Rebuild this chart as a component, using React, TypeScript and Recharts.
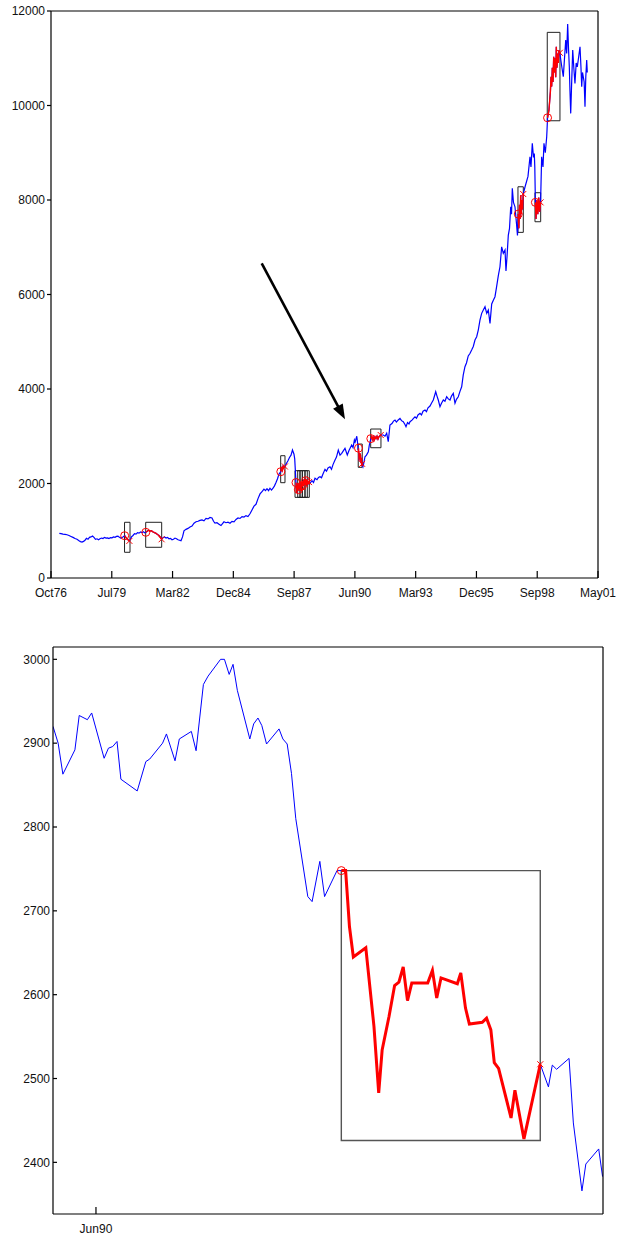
import React from "react";
import {
  LineChart,
  Line,
  XAxis,
  YAxis,
  ReferenceArea,
  ReferenceDot,
  ReferenceLine,
} from "recharts";

const FONT = '"Liberation Sans", Arial, Helvetica, sans-serif';

// ---- overview panel: index level, x = days since the Oct76 tick ----
const overviewSeries: [number, number][] = [
  [137, 946], [165, 940], [197, 930], [230, 925], [263, 915], [296, 900], [329, 880],
  [362, 860], [395, 835], [428, 820], [461, 790], [485, 770], [510, 760], [535, 775],
  [559, 800], [584, 840], [609, 820], [633, 860], [658, 870], [683, 890], [707, 860],
  [732, 820], [757, 830], [782, 810], [806, 830], [831, 845], [856, 835], [880, 860],
  [905, 845], [930, 850], [954, 835], [979, 855], [1004, 850], [1028, 870], [1053, 860],
  [1078, 880], [1102, 885], [1127, 860], [1152, 840], [1176, 860],
  [1212, 895], [1226, 870], [1242, 840], [1259, 820], [1275, 800], [1290, 785],
  [1310, 830], [1324, 870], [1349, 900], [1374, 940], [1399, 930], [1423, 960],
  [1448, 950], [1473, 975], [1497, 960], [1522, 980], [1540, 955],
  [1560, 967], [1579, 985], [1604, 1010], [1629, 995], [1654, 1000], [1678, 975],
  [1703, 960], [1728, 945], [1752, 920], [1777, 900], [1802, 860], [1820, 820],
  [1843, 850], [1867, 870], [1892, 845], [1917, 860], [1941, 830], [1966, 840],
  [1991, 810], [2015, 820], [2040, 845], [2065, 830], [2090, 810], [2114, 800],
  [2139, 790], [2164, 870], [2188, 1000], [2221, 1030], [2254, 1050], [2287, 1080],
  [2320, 1100], [2353, 1160], [2386, 1190], [2419, 1200], [2451, 1220], [2484, 1230],
  [2517, 1210], [2550, 1260], [2583, 1250], [2616, 1280], [2649, 1270], [2674, 1200],
  [2698, 1160], [2731, 1170], [2764, 1140], [2797, 1110], [2822, 1150], [2846, 1190],
  [2879, 1170], [2912, 1180], [2945, 1160], [2978, 1200], [3011, 1190], [3044, 1240],
  [3077, 1270], [3110, 1260], [3143, 1300], [3175, 1290], [3208, 1320], [3241, 1300],
  [3274, 1360], [3307, 1440], [3340, 1520], [3373, 1560], [3406, 1680], [3439, 1780],
  [3472, 1830], [3504, 1880], [3529, 1850], [3554, 1890], [3579, 1850], [3603, 1900],
  [3628, 1860], [3653, 1900], [3677, 1950], [3702, 2020], [3727, 2100], [3751, 2200],
  [3781, 2250], [3793, 2320], [3806, 2280], [3817, 2380], [3830, 2330], [3848, 2360],
  [3875, 2430], [3899, 2480], [3924, 2550], [3949, 2600], [3973, 2710], [3998, 2620],
  [4010, 2520],
  [4031, 2020], [4044, 1800], [4057, 1950], [4070, 1870], [4084, 2000], [4097, 1930],
  [4110, 1850], [4123, 2010], [4136, 1950], [4149, 2040], [4163, 2070], [4176, 1990],
  [4189, 2060], [4202, 2000], [4215, 2050], [4228, 1990], [4245, 2030],
  [4261, 2004], [4294, 2060], [4319, 2020], [4344, 2110], [4376, 2080], [4401, 2130],
  [4426, 2144], [4451, 2120], [4475, 2200], [4508, 2300], [4533, 2260], [4558, 2330],
  [4590, 2355], [4615, 2300], [4640, 2400], [4673, 2497], [4697, 2560], [4727, 2708],
  [4755, 2600], [4783, 2639], [4804, 2680], [4837, 2744], [4875, 2603], [4903, 2700],
  [4947, 2814], [4969, 2760], [4992, 2920], [5004, 2880], [5012, 2910], [5031, 3000],
  [5040, 2910], [5048, 2810], [5052, 2711],
  [5059, 2748], [5062, 2645], [5065, 2656], [5068, 2483], [5073, 2633], [5080, 2629],
  [5087, 2626], [5090, 2565], [5094, 2572], [5099, 2453], [5100, 2486], [5102, 2428],
  [5105, 2517],
  [5112, 2524], [5115, 2366], [5119, 2416], [5133, 2355], [5150, 2450], [5166, 2567],
  [5191, 2600], [5221, 2673], [5236, 2800],
  [5262, 2950], [5275, 2990], [5288, 2930], [5300, 2980], [5314, 2920], [5331, 2990],
  [5347, 2950], [5364, 3000], [5380, 2940], [5396, 2990], [5413, 3010], [5425, 3026],
  [5467, 3026], [5495, 3000], [5523, 3062], [5549, 2884], [5577, 3237], [5610, 3270],
  [5635, 3320], [5660, 3343], [5684, 3300], [5709, 3340], [5742, 3379], [5767, 3330],
  [5796, 3308], [5824, 3250], [5841, 3202], [5866, 3290], [5890, 3260], [5907, 3308],
  [5940, 3340], [5964, 3380], [5989, 3413], [6014, 3380], [6038, 3450], [6071, 3485],
  [6096, 3450], [6121, 3530], [6154, 3555], [6178, 3520], [6203, 3600], [6236, 3640],
  [6260, 3700], [6290, 3767], [6330, 3942], [6351, 3850], [6372, 3767], [6400, 3625],
  [6425, 3700], [6455, 3767], [6482, 3740], [6510, 3836], [6537, 3790], [6565, 3767],
  [6589, 3850], [6619, 3908], [6647, 3697], [6671, 3780], [6701, 3836], [6729, 3950],
  [6757, 4048], [6783, 4300], [6811, 4471], [6836, 4550], [6865, 4700], [6893, 4750],
  [6921, 4824], [6948, 4900], [6976, 5036], [7004, 5106], [7030, 5248], [7058, 5459],
  [7086, 5601], [7113, 5671], [7141, 5741], [7169, 5601], [7195, 5671], [7223, 5389],
  [7251, 5800], [7278, 5880], [7305, 5953], [7330, 6150], [7360, 6400], [7387, 6587],
  [7415, 7010], [7442, 6870], [7470, 6940], [7486, 6500], [7503, 6800], [7524, 7250],
  [7544, 7400], [7564, 7857], [7577, 7700], [7590, 8246], [7609, 7950], [7634, 7857],
  [7659, 7500], [7675, 7250],
  [7688, 7702], [7698, 7400], [7708, 7900], [7718, 7600], [7728, 8100], [7738, 7700],
  [7748, 8000], [7758, 7800], [7770, 8126],
  [7800, 8280], [7848, 8500], [7881, 8915], [7897, 8700], [7919, 9198], [7939, 8900],
  [7952, 8986], [7960, 8703],
  [7970, 7950], [7980, 7600], [7995, 8000], [8010, 7700], [8025, 8050], [8040, 7750],
  [8055, 7950],
  [8073, 8915], [8095, 8700], [8111, 9198], [8133, 9000], [8156, 9339], [8162, 9500],
  [8170, 9740], [8193, 9900], [8205, 10100], [8217, 10300], [8227, 10608], [8238, 10400],
  [8248, 10800], [8260, 10500], [8271, 11031], [8281, 10700], [8292, 11000], [8304, 10600],
  [8314, 11243], [8325, 10800], [8337, 11100], [8347, 10900], [8358, 11172], [8372, 11116],
  [8395, 10900], [8429, 10608], [8449, 11000], [8469, 11384], [8485, 11100], [8501, 11723],
  [8515, 11200], [8528, 10819], [8539, 10300], [8551, 9833], [8567, 10500], [8584, 11172],
  [8602, 10800], [8621, 10468], [8641, 10900], [8659, 10819], [8679, 11000], [8704, 11243],
  [8720, 10800], [8732, 10396], [8745, 10700], [8758, 10608], [8772, 10500], [8786, 9973],
  [8799, 10600], [8814, 10961], [8824, 10700],
];

const overviewXTicks = [0, 1000, 2000, 3000, 4000, 5000, 6000, 7000, 8000, 9000];
const overviewXLabels = ["Oct76", "Jul79", "Mar82", "Dec84", "Sep87", "Jun90", "Mar93", "Dec95", "Sep98", "May01"];
const overviewYTicks = [0, 2000, 4000, 6000, 8000, 10000, 12000];
const overviewXDomain: [number, number] = [0, 9000];
const overviewYDomain: [number, number] = [0, 12000];

// [from day, to day, box low, box high]
const overviewEpisodes: [number, number, number, number][] = [
  [1210, 1300, 544, 1179],
  [1558, 1821, 650, 1179],
  [3779, 3850, 2017, 2588],
  [4015, 4097, 1707, 2271],
  [4059, 4135, 1707, 2271],
  [4097, 4179, 1707, 2271],
  [4135, 4217, 1707, 2271],
  [4179, 4250, 1707, 2271],
  [5055, 5121, 2342, 2835],
  [5260, 5429, 2757, 3153],
  [7683, 7771, 7315, 8280],
  [7963, 8057, 7540, 8154],
  [8165, 8374, 9677, 11548],
];

const arrowStart: [number, number] = [3467, 6659];
const arrowEnd: [number, number] = [4837, 3358];

// ---- detail panel around Jun90, x = calendar days ----
const detailSeries: [number, number][] = [
  [0, 2920], [1.2, 2900], [2.3, 2863], [5.1, 2892], [6.1, 2933], [8, 2928], [9, 2936],
  [11.9, 2882], [12.9, 2894], [13.9, 2896], [14.9, 2902], [15.8, 2857], [19.6, 2843],
  [21.6, 2878], [22.5, 2881], [25.5, 2900], [26.4, 2911], [28.4, 2879], [29.4, 2905],
  [32.2, 2914], [33.3, 2891], [35, 2970], [36.1, 2980], [39, 3000], [39.9, 3000],
  [41, 2982], [41.9, 2994], [42.9, 2963], [45.8, 2905], [46.7, 2923], [47.7, 2930],
  [48.6, 2921], [49.7, 2899], [52.6, 2917], [53.5, 2905], [54.5, 2899], [55.5, 2864],
  [56.5, 2810], [59.3, 2717], [60.3, 2711], [62.1, 2759], [63.2, 2717], [66.1, 2748],
  [67.1, 2748], [68.1, 2748], [69, 2681], [69.9, 2645], [72.8, 2656], [74.7, 2562],
  [75.8, 2483], [76.6, 2534], [78.2, 2574], [79.5, 2611], [80.5, 2615], [81.5, 2633],
  [82.5, 2593], [83.5, 2614], [87.2, 2614], [88.3, 2629], [89.3, 2596], [90.3, 2620],
  [94.1, 2613], [94.9, 2626], [96, 2584], [96.9, 2565], [99.9, 2567], [100.9, 2572],
  [101.9, 2558], [102.7, 2519], [103.7, 2512], [106.6, 2453], [107.5, 2486],
  [109.6, 2428], [113.4, 2517],
  [115.3, 2490], [116.2, 2516], [117.2, 2511], [120.1, 2524], [121.1, 2447],
  [123.1, 2366], [124, 2398], [127, 2416], [127.9, 2383],
];
const detailXTicks = [10];
const detailXLabels = ["Jun90"];
const detailYTicks = [2400, 2500, 2600, 2700, 2800, 2900, 3000];
const detailXDomain: [number, number] = [0, 128];
const detailYDomain: [number, number] = [2338.4, 3014.7];
const detailEpisode: [number, number, number, number] = [67.1, 113.4, 2426, 2748];

const toPoints = (s: [number, number][]) => s.map(([d, v]) => ({ d, v }));
const inWindow = (s: [number, number][], from: number, to: number) =>
  toPoints(s.filter(([d]) => d >= from && d <= to));

const tickStyle = { fill: "#111", fontSize: 12, fontFamily: FONT };

const Cross = (props: any) => {
  const { cx, cy } = props;
  if (cx == null || cy == null) return <g />;
  const s = 3;
  return (
    <path
      d={`M${cx - s},${cy - s}L${cx + s},${cy + s}M${cx - s},${cy + s}L${cx + s},${cy - s}`}
      stroke="#ff0000"
      strokeWidth={1}
      fill="none"
    />
  );
};

const Arrow = (props: any) => {
  const { x1, y1, x2, y2 } = props;
  if ([x1, y1, x2, y2].some((v) => v == null || isNaN(v))) return <g />;
  const len = Math.hypot(x2 - x1, y2 - y1);
  const ux = (x2 - x1) / len;
  const uy = (y2 - y1) / len;
  const head = 15;
  const half = 5.5;
  const bx = x2 - ux * head;
  const by = y2 - uy * head;
  return (
    <g>
      <line x1={x1} y1={y1} x2={bx + ux * 2} y2={by + uy * 2} stroke="#000" strokeWidth={2.6} />
      <polygon
        points={`${x2},${y2} ${bx - uy * half},${by + ux * half} ${bx + uy * half},${by - ux * half}`}
        fill="#000"
      />
    </g>
  );
};

export default function App() {
  const overviewRed = overviewEpisodes.map(([from, to]) => inWindow(overviewSeries, from, to));
  const detailRed = inWindow(detailSeries, detailEpisode[0], detailEpisode[1]);

  return (
    <div style={{ position: "absolute", left: 0, top: 0, width: 624, height: 1237, background: "#fff" }}>
      <LineChart width={624} height={610} margin={{ top: 10, right: 25, left: 1, bottom: 2 }}>
        <XAxis
          type="number"
          dataKey="d"
          domain={overviewXDomain}
          ticks={overviewXTicks}
          tickFormatter={(v: number) => overviewXLabels[overviewXTicks.indexOf(v)] ?? ""}
          allowDataOverflow
          height={30}
          tickSize={-7}
          tickMargin={17}
          interval={0}
          stroke="#000"
          strokeWidth={1.2}
          tick={tickStyle}
        />
        <XAxis
          xAxisId="top"
          orientation="top"
          type="number"
          dataKey="d"
          domain={overviewXDomain}
          ticks={overviewXTicks}
          allowDataOverflow
          height={1}
          tickSize={-6}
          interval={0}
          tick={false}
          stroke="#000"
          strokeWidth={1.2}
        />
        <YAxis
          type="number"
          domain={overviewYDomain}
          ticks={overviewYTicks}
          allowDataOverflow
          width={50}
          tickSize={4}
          tickMargin={2}
          interval={0}
          stroke="#000"
          strokeWidth={1.2}
          tick={tickStyle}
        />
        <YAxis
          yAxisId="right"
          orientation="right"
          type="number"
          domain={overviewYDomain}
          ticks={overviewYTicks}
          allowDataOverflow
          width={1}
          tickSize={-6}
          interval={0}
          tick={false}
          stroke="#000"
          strokeWidth={1.2}
        />
        <Line
          data={toPoints(overviewSeries)}
          dataKey="v"
          type="linear"
          dot={false}
          stroke="#0000ff"
          strokeWidth={1.2}
          isAnimationActive={false}
        />
        {overviewEpisodes.map(([from, to, low, high], i) => (
          <ReferenceArea
            key={`box-${i}`}
            x1={from}
            x2={to}
            y1={low}
            y2={high}
            fill="none"
            fillOpacity={0}
            stroke="#222"
            strokeWidth={1}
          />
        ))}
        {overviewRed.map((pts, i) => (
          <Line
            key={`red-${i}`}
            data={pts}
            dataKey="v"
            type="linear"
            dot={false}
            stroke="#ff0000"
            strokeWidth={1.4}
            isAnimationActive={false}
          />
        ))}
        {overviewRed.map((pts, i) =>
          pts.length ? (
            <ReferenceDot
              key={`o-${i}`}
              x={pts[0].d}
              y={pts[0].v}
              r={4}
              fill="none"
              stroke="#ff0000"
              strokeWidth={1}
            />
          ) : null
        )}
        {overviewRed.map((pts, i) =>
          pts.length ? (
            <ReferenceDot
              key={`x-${i}`}
              x={pts[pts.length - 1].d}
              y={pts[pts.length - 1].v}
              r={3}
              shape={(p: any) => <Cross {...p} />}
            />
          ) : null
        )}
        <ReferenceLine
          segment={[
            { x: arrowStart[0], y: arrowStart[1] },
            { x: arrowEnd[0], y: arrowEnd[1] },
          ]}
          stroke="#000"
          shape={(p: any) => <Arrow {...p} />}
        />
      </LineChart>

      <LineChart width={624} height={627} margin={{ top: 36, right: 20, left: 3, bottom: 1 }}>
        <XAxis
          type="number"
          dataKey="d"
          domain={detailXDomain}
          ticks={detailXTicks}
          tickFormatter={(v: number) => detailXLabels[detailXTicks.indexOf(v)] ?? ""}
          allowDataOverflow
          height={22}
          tickSize={-7}
          tickMargin={17}
          interval={0}
          stroke="#000"
          strokeWidth={1.2}
          tick={tickStyle}
        />
        <XAxis
          xAxisId="top"
          orientation="top"
          type="number"
          dataKey="d"
          domain={detailXDomain}
          ticks={detailXTicks}
          allowDataOverflow
          height={1}
          tickSize={-6}
          interval={0}
          tick={false}
          stroke="#000"
          strokeWidth={1.2}
        />
        <YAxis
          type="number"
          domain={detailYDomain}
          ticks={detailYTicks}
          allowDataOverflow
          width={50}
          tickSize={-4}
          tickMargin={7}
          interval={0}
          stroke="#000"
          strokeWidth={1.2}
          tick={tickStyle}
        />
        <YAxis
          yAxisId="right"
          orientation="right"
          type="number"
          domain={detailYDomain}
          ticks={detailYTicks}
          allowDataOverflow
          width={1}
          tickSize={-6}
          interval={0}
          tick={false}
          stroke="#000"
          strokeWidth={1.2}
        />
        <ReferenceArea
          x1={detailEpisode[0]}
          x2={detailEpisode[1]}
          y1={detailEpisode[2]}
          y2={detailEpisode[3]}
          fill="none"
          fillOpacity={0}
          stroke="#555"
          strokeWidth={1.4}
        />
        <Line
          data={toPoints(detailSeries)}
          dataKey="v"
          type="linear"
          dot={false}
          stroke="#0000ff"
          strokeWidth={1}
          isAnimationActive={false}
        />
        <Line
          data={detailRed}
          dataKey="v"
          type="linear"
          dot={false}
          stroke="#ff0000"
          strokeWidth={3}
          isAnimationActive={false}
        />
        <ReferenceDot
          x={detailRed[0].d}
          y={detailRed[0].v}
          r={4}
          fill="none"
          stroke="#ff0000"
          strokeWidth={1}
        />
        <ReferenceDot
          x={detailRed[detailRed.length - 1].d}
          y={detailRed[detailRed.length - 1].v}
          r={3}
          shape={(p: any) => <Cross {...p} />}
        />
      </LineChart>
    </div>
  );
}
